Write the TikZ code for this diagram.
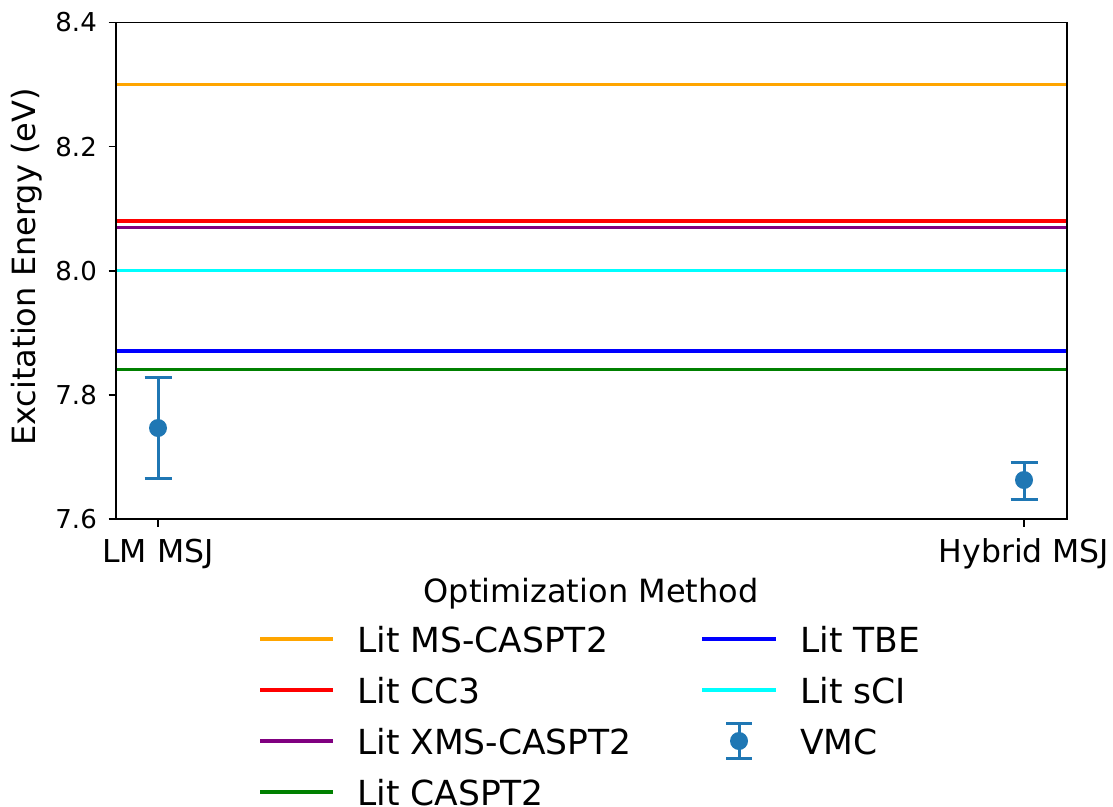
\documentclass[tikz,border=0pt]{standalone}
\usepackage{fontspec}
\setmainfont{DejaVu Sans}
\definecolor{mplorange}{RGB}{255,165,0}
\definecolor{mplred}{RGB}{255,0,0}
\definecolor{mplpurple}{RGB}{128,0,128}
\definecolor{mplcyan}{RGB}{0,255,255}
\definecolor{mplblue}{RGB}{0,0,255}
\definecolor{mplgreen}{RGB}{0,128,0}
\definecolor{tabblue}{RGB}{31,119,180}
\tikzset{
  refline/.style={line width=3.5pt},
  errline/.style={line width=3pt, draw=tabblue},
  errdot/.style={fill=tabblue, draw=none},
  spine/.style={line width=1.8pt, draw=black},
  tickmark/.style={line width=1.6pt, draw=black},
  yticklabel/.style={anchor=east, inner sep=0pt, font=\fontsize{26}{30}\selectfont},
  xticklabel/.style={anchor=base, inner sep=0pt, font=\fontsize{31.5}{36}\selectfont},
  axislabel/.style={anchor=base, inner sep=0pt, font=\fontsize{32}{38}\selectfont},
  legendtext/.style={anchor=base west, inner sep=0pt, font=\fontsize{34.5}{40}\selectfont},
}
\begin{document}
\begin{tikzpicture}[x=1pt,y=-1pt]
\useasboundingbox (0,0) rectangle (1113,806);

% axes corners
\coordinate (axNW) at (115.7,22.5);
\coordinate (axSE) at (1067,519);

% literature reference energies (horizontal lines across the axes)
\foreach \yy/\cc/\nm in {84.5/mplorange/msc, 221/mplred/ccc, 227.3/mplpurple/xms,
                         270.5/mplcyan/sci, 350.8/mplblue/tbe, 369.5/mplgreen/cas}{
  \coordinate (\nm L) at (115.7,\yy);
  \coordinate (\nm R) at (1067,\yy);
  \draw[refline, draw=\cc] (\nm L) -- (\nm R);
}

% VMC points with error bars
\coordinate (lmTop) at (158,377);
\coordinate (lmBot) at (158,478);
\coordinate (lmMid) at (158,428);
\draw[errline] (lmTop) -- (lmBot);
\draw[errline] ([xshift=-13.5pt]lmTop) -- ([xshift=13.5pt]lmTop);
\draw[errline] ([xshift=-13.5pt]lmBot) -- ([xshift=13.5pt]lmBot);
\fill[errdot] (lmMid) circle[radius=9pt];

\coordinate (hyTop) at (1024,462);
\coordinate (hyBot) at (1024,499);
\coordinate (hyMid) at (1024,480);
\draw[errline] (hyTop) -- (hyBot);
\draw[errline] ([xshift=-13.5pt]hyTop) -- ([xshift=13.5pt]hyTop);
\draw[errline] ([xshift=-13.5pt]hyBot) -- ([xshift=13.5pt]hyBot);
\fill[errdot] (hyMid) circle[radius=9pt];

% axes frame
\draw[spine] (axNW) rectangle (axSE);

% y ticks and labels
\foreach \yy/\lab in {22.5/8.4, 146.6/8.2, 270.8/8.0, 394.9/7.8, 519/7.6}{
  \draw[tickmark] (108.5,\yy) -- (115.7,\yy);
  \node[yticklabel] (yt\lab) at (97,\yy) {\lab};
}

% x ticks and labels
\draw[tickmark] (158,519) -- (158,526.5);
\draw[tickmark] (1024,519) -- (1024,526.5);
\node[xticklabel] (xtlm) at (158,562) {LM MSJ};
\node[xticklabel] (xthy) at (1024,562) {Hybrid MSJ};

% axis titles
\node[axislabel] (xlabel) at (591,602) {Optimization Method};
\node[axislabel, rotate=90] (ylabel) at (35,267) {Excitation Energy (eV)};

% legend, first column
\foreach \yy/\cc/\txt/\nm in {639/mplorange/Lit MS-CASPT2/la, 690/mplred/Lit CC3/lb,
                              741/mplpurple/Lit XMS-CASPT2/lc, 792/mplgreen/Lit CASPT2/ld}{
  \coordinate (\nm a) at (260,\yy);
  \coordinate (\nm b) at (333,\yy);
  \draw[refline, draw=\cc] (\nm a) -- (\nm b);
  \node[legendtext] (\nm t) at (357,\yy+13) {\txt};
}

% legend, second column
\foreach \yy/\cc/\txt/\nm in {639/mplblue/Lit TBE/le, 690/mplcyan/Lit sCI/lf}{
  \coordinate (\nm a) at (702,\yy);
  \coordinate (\nm b) at (776,\yy);
  \draw[refline, draw=\cc] (\nm a) -- (\nm b);
  \node[legendtext] (\nm t) at (800,\yy+13) {\txt};
}
\coordinate (vmcTop) at (739,723);
\coordinate (vmcBot) at (739,758);
\coordinate (vmcMid) at (739,741);
\draw[errline] (vmcTop) -- (vmcBot);
\draw[errline] ([xshift=-13pt]vmcTop) -- ([xshift=13pt]vmcTop);
\draw[errline] ([xshift=-13pt]vmcBot) -- ([xshift=13pt]vmcBot);
\fill[errdot] (vmcMid) circle[radius=9pt];
\node[legendtext] (lgt) at (800,754) {VMC};
\end{tikzpicture}
\end{document}
